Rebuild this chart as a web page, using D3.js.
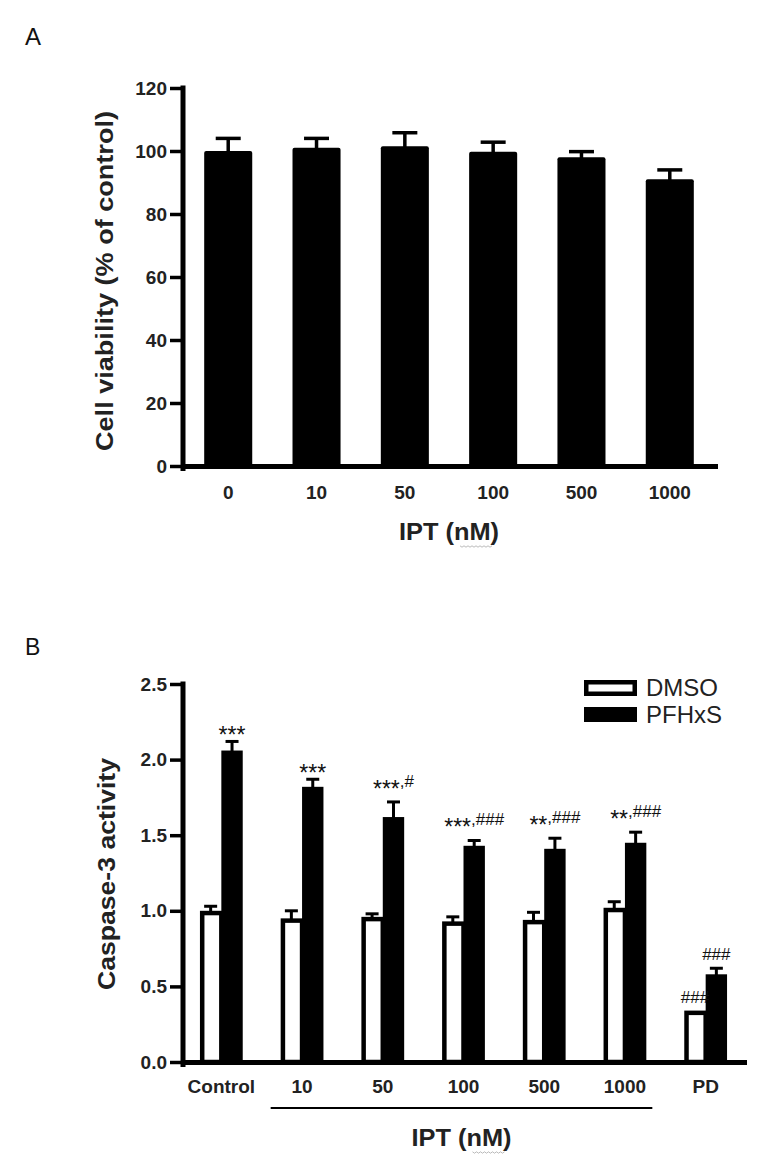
<!DOCTYPE html>
<html><head><meta charset="utf-8">
<script src="https://cdn.jsdelivr.net/npm/d3@7"></script>
<style>
html,body{margin:0;padding:0;background:#fff;}
svg{display:block;font-family:"Liberation Sans",Arial,sans-serif;}
</style></head>
<body>
<svg id="chart" width="776" height="1164"></svg>
<script>
// ---------- Panel A data ----------
const catsA = ["0", "10", "50", "100", "500", "1000"];
const viabA = [100, 101, 101.5, 99.8, 98, 91];
const viabErrA = [4, 3, 4.3, 3, 1.8, 3];
const ticksA = [0, 20, 40, 60, 80, 100, 120];

// ---------- Panel B data ----------
const catsB = ["Control", "10", "50", "100", "500", "1000", "PD"];
const seriesB = ["DMSO", "PFHxS"];
const dmsoB = [1.00, 0.95, 0.96, 0.93, 0.94, 1.02, 0.34];
const dmsoErrB = [0.03, 0.05, 0.02, 0.03, 0.05, 0.04, 0.0];
const pfhxsB = [2.06, 1.82, 1.62, 1.43, 1.41, 1.45, 0.58];
const pfhxsErrB = [0.06, 0.05, 0.10, 0.035, 0.07, 0.07, 0.04];
const sigDmsoB = ["", "", "", "", "", "", "###"];
const sigPfhxsB = ["***", "***", "***,#", "***,###", "**,###", "**,###", "###"];
const ticksB = [0, 0.5, 1.0, 1.5, 2.0, 2.5];

const svg = d3.select("#chart");
const AX = 5; // axis stroke
const INK = "#111";

// ===== Panel A =====
svg.append("text").attr("x", 25).attr("y", 45).attr("font-size", 24).attr("fill", INK).text("A");

const xA = d3.scaleBand().domain(catsA).range([183, 715]).paddingInner(0.456).paddingOuter(0.24);
const yA = d3.scaleLinear().domain([0, 120]).range([466, 88]);
const gA = svg.append("g");

gA.selectAll("rect.bar").data(catsA).join("rect")
  .attr("class", "bar")
  .attr("x", d => xA(d)).attr("width", xA.bandwidth())
  .attr("y", (d, i) => yA(viabA[i])).attr("height", (d, i) => yA(0) - yA(viabA[i]))
  .attr("rx", 2).attr("fill", "#000");
gA.selectAll("line.err").data(catsA).join("line")
  .attr("class", "err")
  .attr("x1", d => xA(d) + xA.bandwidth() / 2).attr("x2", d => xA(d) + xA.bandwidth() / 2)
  .attr("y1", (d, i) => yA(viabA[i]) + 1).attr("y2", (d, i) => yA(viabA[i] + viabErrA[i]))
  .attr("stroke", "#000").attr("stroke-width", 3.5);
gA.selectAll("line.cap").data(catsA).join("line")
  .attr("class", "cap")
  .attr("x1", d => xA(d) + xA.bandwidth() / 2 - 12.5).attr("x2", d => xA(d) + xA.bandwidth() / 2 + 12.5)
  .attr("y1", (d, i) => yA(viabA[i] + viabErrA[i])).attr("y2", (d, i) => yA(viabA[i] + viabErrA[i]))
  .attr("stroke", "#000").attr("stroke-width", 3.5);

const yAxisA = gA.append("g").attr("transform", "translate(183,0)")
  .call(d3.axisLeft(yA).tickValues(ticksA).tickSize(13).tickSizeOuter(0).tickPadding(3));
const xAxisA = gA.append("g").attr("transform", "translate(0,466)")
  .call(d3.axisBottom(xA).tickSize(0).tickSizeOuter(0).tickPadding(20));

// ===== Panel B =====
svg.append("text").attr("x", 25).attr("y", 655).attr("font-size", 23).attr("fill", INK).text("B");

const xB = d3.scaleBand().domain(catsB).range([183, 744]).paddingInner(0.47).paddingOuter(0.21);
const xSub = d3.scaleBand().domain(seriesB).range([0, xB.bandwidth()]);
const yB = d3.scaleLinear().domain([0, 2.5]).range([1062, 684]);
const gB = svg.append("g");
const SW = 4.5;

// DMSO (open) bars
gB.selectAll("rect.dmso").data(catsB).join("rect")
  .attr("class", "dmso")
  .attr("x", d => xB(d) + xSub("DMSO") + SW / 2).attr("width", xSub.bandwidth() - SW / 2)
  .attr("y", (d, i) => yB(dmsoB[i]) + SW / 2).attr("height", (d, i) => yB(0) - yB(dmsoB[i]) - SW / 2)
  .attr("fill", "#fff").attr("stroke", "#000").attr("stroke-width", SW);
// PFHxS (filled) bars
gB.selectAll("rect.pf").data(catsB).join("rect")
  .attr("class", "pf")
  .attr("x", d => xB(d) + xSub("PFHxS")).attr("width", xSub.bandwidth())
  .attr("y", (d, i) => yB(pfhxsB[i])).attr("height", (d, i) => yB(0) - yB(pfhxsB[i]))
  .attr("fill", "#000");

function errBars(cls, vals, errs, key) {
  const cx = d => xB(d) + xSub(key) + xSub.bandwidth() / 2;
  const data = catsB.filter((d, i) => errs[i] > 0);
  const idx = d => catsB.indexOf(d);
  gB.selectAll("line." + cls + "e").data(data).join("line")
    .attr("class", cls + "e")
    .attr("x1", cx).attr("x2", cx)
    .attr("y1", d => yB(vals[idx(d)]) + 1).attr("y2", d => yB(vals[idx(d)] + errs[idx(d)]))
    .attr("stroke", "#000").attr("stroke-width", 3);
  gB.selectAll("line." + cls + "c").data(data).join("line")
    .attr("class", cls + "c")
    .attr("x1", d => cx(d) - 6.5).attr("x2", d => cx(d) + 6.5)
    .attr("y1", d => yB(vals[idx(d)] + errs[idx(d)])).attr("y2", d => yB(vals[idx(d)] + errs[idx(d)]))
    .attr("stroke", "#000").attr("stroke-width", 3);
}
errBars("dm", dmsoB, dmsoErrB, "DMSO");
errBars("pf", pfhxsB, pfhxsErrB, "PFHxS");

// significance labels
function sigLabels(labels, vals, errs, key) {
  catsB.forEach((c, i) => {
    const lab = labels[i];
    if (!lab) return;
    const cx = xB(c) + xSub(key) + xSub.bandwidth() / 2;
    const off = lab.includes("#") ? (lab.includes("*") ? 15 : 8) : 8.5;
    const t = gB.append("text").attr("x", cx).attr("y", yB(vals[i] + errs[i]) - off)
      .attr("text-anchor", "middle").attr("font-size", 17).attr("fill", INK);
    const m = lab.match(/^(\**)(,?)(#*)$/);
    if (m[1]) t.append("tspan").attr("font-size", 23).attr("dy", 10).text(m[1]);
    if (m[2] || m[3]) t.append("tspan").attr("dy", m[1] ? -10 : 0).text(m[2] + m[3]);
  });
}
sigLabels(sigDmsoB, dmsoB, dmsoErrB, "DMSO");
sigLabels(sigPfhxsB, pfhxsB, pfhxsErrB, "PFHxS");

const yAxisB = gB.append("g").attr("transform", "translate(183,0)")
  .call(d3.axisLeft(yB).tickValues(ticksB).tickFormat(d3.format(".1f")).tickSize(13).tickSizeOuter(0).tickPadding(3));
const xAxisB = gB.append("g").attr("transform", "translate(0,1062)")
  .call(d3.axisBottom(xB).tickSize(0).tickSizeOuter(0).tickPadding(18));

// style axes
[yAxisA, xAxisA, yAxisB, xAxisB].forEach(g => {
  g.select(".domain").attr("stroke", "#000").attr("stroke-width", AX).attr("stroke-linecap", "square");
  g.selectAll(".tick line").attr("stroke", "#000").attr("stroke-width", 3.5);
  g.selectAll(".tick text").attr("fill", "#222").attr("font-weight", "bold")
    .attr("font-family", "'Liberation Sans',Arial,sans-serif").attr("font-size", 19);
});
// extend y domain line to meet x axis
yAxisA.select(".domain").attr("d", `M0,${yA(120)}V${yA(0) + AX / 2}`);
yAxisB.select(".domain").attr("d", `M0,${yB(2.5)}V${yB(0) + AX / 2}`);

// axis titles
function vTitle(x, y, txt, len) {
  svg.append("text").attr("transform", `translate(${x},${y}) rotate(-90)`)
    .attr("text-anchor", "middle").attr("font-size", 23).attr("font-weight", "bold")
    .attr("fill", "#222").attr("textLength", len).attr("lengthAdjust", "spacingAndGlyphs").text(txt);
}
vTitle(113, (yA(120) + yA(0)) / 2 + 4, "Cell viability (% of control)", 340);
vTitle(115, 874, "Caspase-3 activity", 232);

function hTitle(x, y, txt) {
  const t = svg.append("text").attr("x", x).attr("y", y).attr("text-anchor", "middle")
    .attr("font-size", 23).attr("font-weight", "bold").attr("fill", "#222")
    .attr("textLength", 100).attr("lengthAdjust", "spacingAndGlyphs");
  t.text(txt);
  const bb = t.node().getBBox();
  // spell-check squiggle under "(nM)"
  const w = bb.width * 0.45;
  const x0 = bb.x + bb.width - w + 6, x1 = bb.x + bb.width - 6;
  const pts = d3.range(x0, x1, 2).map((px, k) => [px, y + 6 + (k % 2 ? 1.2 : -0.2)]);
  svg.append("path").attr("d", d3.line()(pts)).attr("fill", "none").attr("stroke", "#aaa").attr("stroke-width", 0.8);
}
hTitle((183 + 715) / 2, 540, "IPT (nM)");

// bracket under IPT concentrations
const bx0 = xB("10") - 10, bx1 = xB("1000") + xB.bandwidth() + 6;
svg.append("line").attr("x1", bx0).attr("x2", bx1).attr("y1", 1108).attr("y2", 1108)
  .attr("stroke", "#000").attr("stroke-width", 2);
hTitle((bx0 + bx1) / 2, 1146, "IPT (nM)");

// legend
const lg = svg.append("g").attr("transform", "translate(584,680)");
lg.append("rect").attr("x", SW / 2).attr("y", SW / 2).attr("width", 53 - SW).attr("height", 16 - SW)
  .attr("fill", "#fff").attr("stroke", "#000").attr("stroke-width", SW);
lg.append("rect").attr("x", 0).attr("y", 27).attr("width", 53).attr("height", 15).attr("fill", "#000");
lg.selectAll("text").data(seriesB).join("text")
  .attr("x", 62).attr("y", (d, i) => 16 + i * 27).attr("font-size", 24).attr("fill", "#222").text(d => d);
</script>
</body></html>
